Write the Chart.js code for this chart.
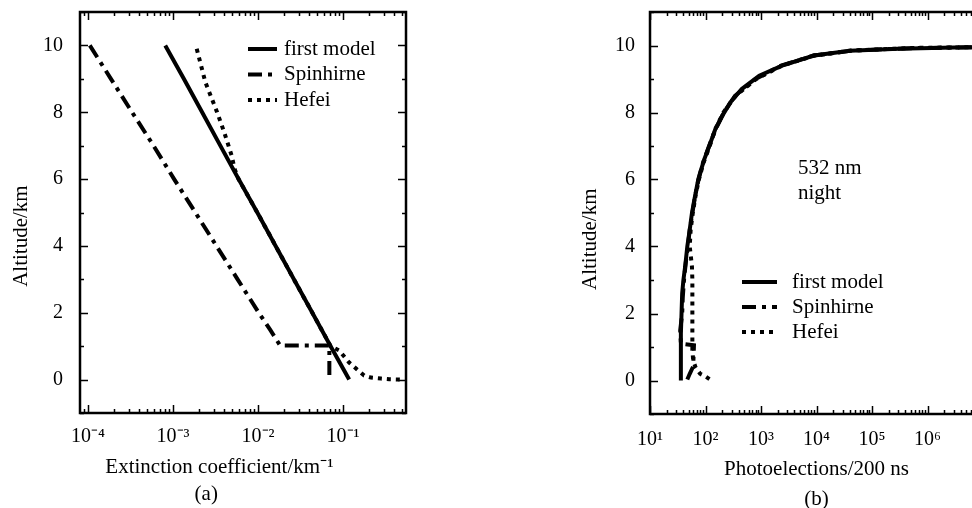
<!DOCTYPE html>
<html>
<head>
<meta charset="utf-8">
<script src="https://cdn.jsdelivr.net/npm/chart.js@4.4.1/dist/chart.umd.min.js"></script>
<style>
  html, body { margin: 0; padding: 0; background: #fff; overflow: hidden; width: 972px; height: 508px; }
  canvas { position: absolute; top: 0; }
  #chartA { left: 0; }
  #chartB { left: 520px; }
</style>
</head>
<body>
<canvas id="chartA" width="440" height="520"></canvas>
<canvas id="chartB" width="500" height="520"></canvas>
<script>
// (a) extinction profiles, km^-1 vs altitude km
const altModelA = [0, 1, 2, 3, 4, 5, 6, 7, 8, 9, 10];
const extModelA = [0.118, 0.0714, 0.0435, 0.0264, 0.0161, 0.0098, 0.0059, 0.0036, 0.0022, 0.00134, 0.00081];
const altSpinA = [10, 9, 8, 7, 6, 5, 4, 3, 2, 1.5, 1.02, 1.02, 0];
const extSpinA = [1.05e-4, 1.86e-4, 3.3e-4, 5.9e-4, 1.03e-3, 1.83e-3, 3.24e-3, 5.75e-3, 0.0102, 0.0138, 0.0182, 0.069, 0.069];
const altHefeiA = [9.9, 8.9, 8, 7.4, 6.7, 6.3, 6, 5, 4, 3, 2, 1, 0.87, 0.51, 0.33, 0.12, 0.06, 0.03, 0.01, 0];
const extHefeiA = [0.0019, 0.0024, 0.0033, 0.004, 0.0049, 0.0053, 0.0059, 0.0098, 0.0161, 0.0264, 0.0435, 0.0714, 0.09, 0.118, 0.142, 0.177, 0.213, 0.28, 0.35, 0.48];

// (b) photoelectrons / 200 ns vs altitude km
const altModelB = [0, 0.5, 1.0, 1.4, 2.0, 2.6, 3.0, 3.4, 4.0, 4.4, 5.0, 5.4, 6.0, 6.2, 6.6, 7.0, 7.5, 7.9, 8.3, 8.7, 9.1, 9.4, 9.7, 9.84, 9.9, 9.94, 9.95];
const cntModelB = [36, 36, 36, 36, 37, 38, 40, 43, 47, 51, 57, 63, 74, 80, 95, 117, 150, 200, 280, 450, 930, 2400, 9000, 40000, 3e5, 3e6, 1e7];
const altSpinB = [0.03, 0.2, 0.42, 1.05, 1.1, 1.5, 2.0, 2.5, 3.0, 3.5, 4.0, 4.5, 5.0, 5.5, 6.0, 6.5, 7.0, 7.5, 8.0, 8.5, 9.0, 9.4, 9.7, 9.85, 9.92, 9.95];
const cntSpinB = [47, 52, 60, 62, 36, 35, 38, 39, 41, 44, 48, 52, 58, 65, 75, 90, 116, 152, 215, 340, 800, 2300, 8800, 45000, 5e5, 1e7];
const altHefeiB = [0.04, 0.12, 0.2, 0.4, 0.6, 0.9, 1.5, 2.0, 2.5, 3.0, 3.4, 4.0, 4.5, 5.0, 5.5, 6.0, 6.5, 7.0, 7.5, 8.0, 8.5, 9.0, 9.4, 9.7, 9.85, 9.93, 9.95];
const cntHefeiB = [118, 100, 80, 66, 60, 58, 58, 58, 58, 58, 57, 52, 54, 59, 66, 76, 92, 119, 150, 210, 350, 820, 2400, 9200, 42000, 6e5, 1e7];

const altTicks = [0, 2, 4, 6, 8, 10];
const extTickValues = [1e-4, 1e-3, 1e-2, 1e-1];
const extTickLabels = ['10⁻⁴', '10⁻³', '10⁻²', '10⁻¹'];
const cntTickValues = [1e1, 1e2, 1e3, 1e4, 1e5, 1e6];
const cntTickLabels = ['10¹', '10²', '10³', '10⁴', '10⁵', '10⁶'];
const seriesNames = ['first model', 'Spinhirne', 'Hefei'];

const SERIF = "'Liberation Serif', 'Times New Roman', serif";
Chart.defaults.font.family = SERIF;
Chart.defaults.color = '#000';

const points = (xs, ys) => xs.map((v, i) => ({ x: v, y: ys[i] }));

// frame with inward ticks + legend drawn inside the plot
const frameTicks = {
  id: 'frameTicks',
  afterDatasetsDraw(chart, args, opts) {
    const { ctx, chartArea: a, scales: { x, y } } = chart;
    ctx.save();
    ctx.strokeStyle = '#000';
    ctx.lineWidth = 1.5;
    ctx.setLineDash([]);
    ctx.beginPath();
    const lo = Math.floor(Math.log10(x.min)), hi = Math.ceil(Math.log10(x.max));
    for (let e = lo; e <= hi; e++) {
      for (let m = 1; m < 10; m++) {
        const v = m * Math.pow(10, e);
        if (v < x.min || v > x.max) continue;
        const px = Math.round(x.getPixelForValue(v)) + 0.5;
        const len = m === 1 ? 8 : 4;
        ctx.moveTo(px, a.bottom); ctx.lineTo(px, a.bottom - len);
        ctx.moveTo(px, a.top); ctx.lineTo(px, a.top + len);
      }
    }
    for (let k = Math.ceil(y.min); k <= y.max; k++) {
      const py = Math.round(y.getPixelForValue(k)) + 0.5;
      const len = k % 2 === 0 ? 8 : 4;
      ctx.moveTo(a.left, py); ctx.lineTo(a.left + len, py);
      ctx.moveTo(a.right, py); ctx.lineTo(a.right - len, py);
    }
    ctx.stroke();
    ctx.lineWidth = 2.5;
    ctx.strokeRect(a.left, a.top, a.right - a.left, a.bottom - a.top);

    // legend
    const lg = opts.legend;
    ctx.font = '21px ' + SERIF;
    ctx.fillStyle = '#000';
    ctx.textBaseline = 'middle';
    chart.data.datasets.forEach((ds, i) => {
      const ly = lg.y + i * lg.rowH;
      ctx.lineWidth = ds.borderWidth;
      ctx.setLineDash(ds.borderDash || []);
      ctx.beginPath();
      ctx.moveTo(lg.x, ly);
      ctx.lineTo(lg.x + lg.lineLen, ly);
      ctx.stroke();
      ctx.fillText(ds.label, lg.x + lg.lineLen + lg.gap, ly);
    });
    if (opts.note) {
      opts.note.lines.forEach((t, i) => ctx.fillText(t, opts.note.x, opts.note.y + i * opts.note.rowH));
    }
    ctx.restore();
  }
};

function makeChart(id, cfg) {
  return new Chart(document.getElementById(id), {
    type: 'line',
    data: { datasets: cfg.datasets },
    options: {
      responsive: false,
      animation: false,
      events: [],
      layout: { padding: cfg.padding },
      elements: { point: { radius: 0 }, line: { tension: 0, borderCapStyle: 'butt' } },
      plugins: { legend: { display: false }, tooltip: { enabled: false }, frameTicks: cfg.extra },
      scales: {
        x: {
          type: 'logarithmic',
          min: cfg.xMin,
          max: cfg.xMax,
          afterBuildTicks: s => { s.ticks = cfg.xTicks.map(v => ({ value: v })); },
          afterFit: s => { s.height = cfg.xHeight; s.paddingLeft = 0; s.paddingRight = 0; },
          grid: { display: false, drawTicks: false },
          border: { display: false },
          ticks: {
            padding: cfg.xPad, autoSkip: false, maxRotation: 0,
            font: { size: 20 },
            callback: (v, i) => cfg.xLabels[i]
          },
          title: {
            display: true, text: cfg.xTitle,
            font: { size: 21, lineHeight: cfg.xTitleLH },
            padding: { top: 0, bottom: cfg.xTitlePad }
          }
        },
        y: {
          type: 'linear',
          min: -1,
          max: 11,
          afterBuildTicks: s => { s.ticks = altTicks.map(v => ({ value: v })); },
          afterFit: s => { s.width = cfg.yWidth; s.paddingTop = 0; s.paddingBottom = 0; },
          grid: { display: false, drawTicks: false },
          border: { display: false },
          ticks: { padding: cfg.yPad, font: { size: 20 }, callback: v => String(v) },
          title: {
            display: true, text: cfg.yTitle,
            font: { size: 21, lineHeight: 1.2 },
            padding: { top: cfg.yTitlePad, bottom: 0 }
          }
        }
      }
    },
    plugins: [frameTicks]
  });
}

makeChart('chartA', {
  datasets: [
    { label: seriesNames[0], data: points(extModelA, altModelA), borderColor: '#000', borderWidth: 4 },
    { label: seriesNames[1], data: points(extSpinA, altSpinA), borderColor: '#000', borderWidth: 4, borderDash: [14, 6, 4, 6] },
    { label: seriesNames[2], data: points(extHefeiA, altHefeiA), borderColor: '#000', borderWidth: 4, borderDash: [4, 5] }
  ],
  padding: { left: 0, right: 34, top: 12, bottom: 0 },
  xMin: 8.05e-5, xMax: 0.55,
  xTicks: extTickValues, xLabels: extTickLabels,
  xHeight: 107, xPad: 12,
  xTitle: ['Extinction coefficient/km⁻¹         ', '(a)              '],
  xTitleLH: 1.3, xTitlePad: 12,
  yWidth: 80, yPad: 17,
  yTitle: 'Altitude/km         ', yTitlePad: 9,
  extra: { legend: { x: 248, y: 49, lineLen: 29, gap: 7, rowH: 25.5 } }
});

makeChart('chartB', {
  datasets: [
    { label: seriesNames[0], data: points(cntModelB, altModelB), borderColor: '#000', borderWidth: 4 },
    { label: seriesNames[1], data: points(cntSpinB, altSpinB), borderColor: '#000', borderWidth: 4, borderDash: [14, 6, 4, 6] },
    { label: seriesNames[2], data: points(cntHefeiB, altHefeiB), borderColor: '#000', borderWidth: 4, borderDash: [4, 5] }
  ],
  padding: { left: 58, right: 37, top: 12, bottom: 0 },
  xMin: 10, xMax: 1e7,
  xTicks: cntTickValues, xLabels: cntTickLabels,
  xHeight: 106, xPad: 14,
  xTitle: ['Photoelections/200 ns', '(b)'],
  xTitleLH: 1.45, xTitlePad: 5,
  yWidth: 72, yPad: 15,
  yTitle: 'Altitude/km          ', yTitlePad: 0,
  extra: {
    legend: { x: 222, y: 282, lineLen: 35, gap: 15, rowH: 25 },
    note: { x: 278, y: 168, rowH: 25, lines: ['532 nm', 'night'] }
  }
});
</script>
</body>
</html>
